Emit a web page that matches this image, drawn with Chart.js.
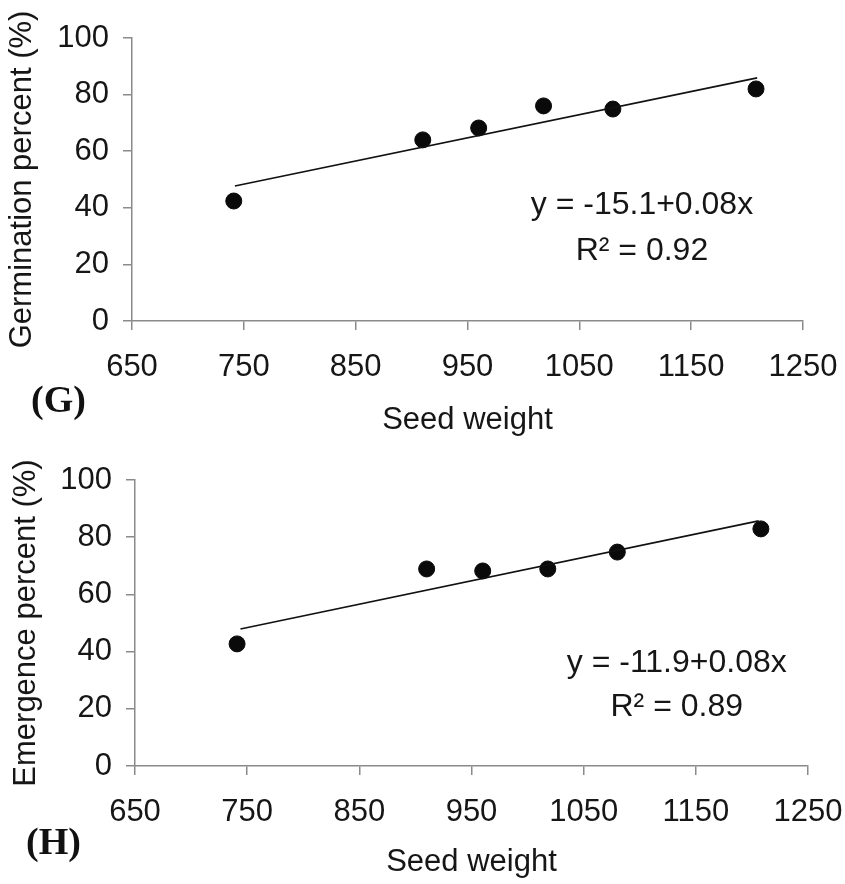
<!DOCTYPE html>
<html>
<head>
<meta charset="utf-8">
<script src="https://cdn.jsdelivr.net/npm/chart.js@4.4.1/dist/chart.umd.min.js"></script>
<style>
  body { margin: 0; background: #fff; }
  .panel { position: absolute; left: 0; width: 845px; height: 442px; }
  .tag { position: absolute; font-family: "Liberation Serif", serif; font-weight: bold; font-size: 38px; color: #111; line-height: 1; }
</style>
</head>
<body>
<div class="panel" style="top:0"><canvas id="chartG"></canvas></div>
<div class="panel" style="top:442px"><canvas id="chartH"></canvas></div>
<div class="tag" style="left:31px;top:380px">(G)</div>
<div class="tag" style="left:26px;top:822px">(H)</div>
<script>
// values
const seedWeight = [741, 910, 960, 1018, 1080, 1208];
const germination = [42.4, 64.0, 68.2, 76.0, 74.9, 82.0];
const emergence = [42.7, 68.9, 68.2, 68.9, 74.8, 82.9];

// fitted lines, end points as drawn
const germTrendX = [742, 1209];
const germTrendY = [47.7, 85.9];
const emergTrendX = [744, 1206];
const emergTrendY = [47.9, 85.7];

const germEquation = ['y = -15.1+0.08x', 'R\u00B2 = 0.92'];
const emergEquation = ['y = -11.9+0.08x', 'R\u00B2 = 0.89'];

const xTitle = 'Seed weight';
const xMin = 650, xMax = 1250, xStep = 100;
const yMin = 0, yMax = 100, yStep = 20;

const axisGrey = '#8a8a8a';
const textColor = '#161616';
const fontFamily = '"Liberation Sans", Arial, sans-serif';

// writes the regression equation inside the plot area
const equationPlugin = {
  id: 'equation',
  afterDraw(chart, args, opts) {
    const { ctx, chartArea } = chart;
    ctx.save();
    ctx.font = '32px ' + fontFamily;
    ctx.fillStyle = textColor;
    ctx.textAlign = 'center';
    ctx.textBaseline = 'middle';
    const cx = chartArea.left + opts.x * chartArea.width;
    opts.lines.forEach((line, i) => {
      ctx.fillText(line, cx, chartArea.top + opts.y[i] * chartArea.height);
    });
    ctx.restore();
  }
};

function makeChart(id, yValues, trendX, trendY, yTitle, eqLines, eq, box) {
  const ctx = document.getElementById(id).getContext('2d');
  return new Chart(ctx, {
    type: 'scatter',
    data: {
      datasets: [
        {
          type: 'line',
          data: trendX.map((x, i) => ({ x: x, y: trendY[i] })),
          borderColor: '#111',
          borderWidth: 1.6,
          pointRadius: 0,
          fill: false
        },
        {
          data: seedWeight.map((x, i) => ({ x: x, y: yValues[i] })),
          backgroundColor: '#0a0a0a',
          borderColor: '#0a0a0a',
          pointRadius: 8,
          pointHoverRadius: 8
        }
      ]
    },
    options: {
      responsive: true,
      maintainAspectRatio: false,
      animation: false,
      events: [],
      layout: { padding: { top: 38, right: box.right, left: 0, bottom: 0 } },
      plugins: {
        legend: { display: false },
        tooltip: { enabled: false },
        equation: { lines: eqLines, x: eq.x, y: eq.y }
      },
      scales: {
        x: {
          type: 'linear',
          min: xMin,
          max: xMax,
          afterFit: function(scale) {
            scale.height = box.xHeight;
            // let the layout padding alone decide the plot edges
            scale.paddingLeft = 0;
            scale.paddingRight = 0;
          },
          ticks: {
            stepSize: xStep, padding: 19, color: textColor,
            font: { family: fontFamily, size: 31 },
            callback: function(value) { return String(value); }
          },
          grid: { drawOnChartArea: false, drawTicks: true, tickLength: 9, color: axisGrey, lineWidth: 1.5 },
          border: { color: axisGrey, width: 1.5 },
          title: { display: true, text: xTitle, color: textColor, padding: { top: 0, bottom: 3 }, font: { family: fontFamily, size: 31 } }
        },
        y: {
          min: yMin,
          max: yMax,
          afterFit: function(scale) {
            scale.width = box.yWidth;
            scale.paddingTop = 0;
            scale.paddingBottom = 0;
          },
          ticks: { stepSize: yStep, padding: 14, color: textColor, font: { family: fontFamily, size: 31 } },
          grid: { drawOnChartArea: false, drawTicks: true, tickLength: 9, color: axisGrey, lineWidth: 1.5 },
          border: { color: axisGrey, width: 1.5 },
          title: { display: true, text: yTitle, color: textColor, padding: { top: box.titlePad, bottom: 0 }, font: { family: fontFamily, size: 31 } }
        }
      }
    },
    plugins: [equationPlugin]
  });
}

makeChart('chartG', germination, germTrendX, germTrendY, 'Germination percent (%)', germEquation,
  { x: 0.76, y: [0.59, 0.755] }, { right: 42, xHeight: 121, yWidth: 132, titlePad: 4 });
makeChart('chartH', emergence, emergTrendX, emergTrendY, 'Emergence percent (%)', emergEquation,
  { x: 0.805, y: [0.64, 0.795] }, { right: 37, xHeight: 118, yWidth: 135, titlePad: 8 });
</script>
</body>
</html>
